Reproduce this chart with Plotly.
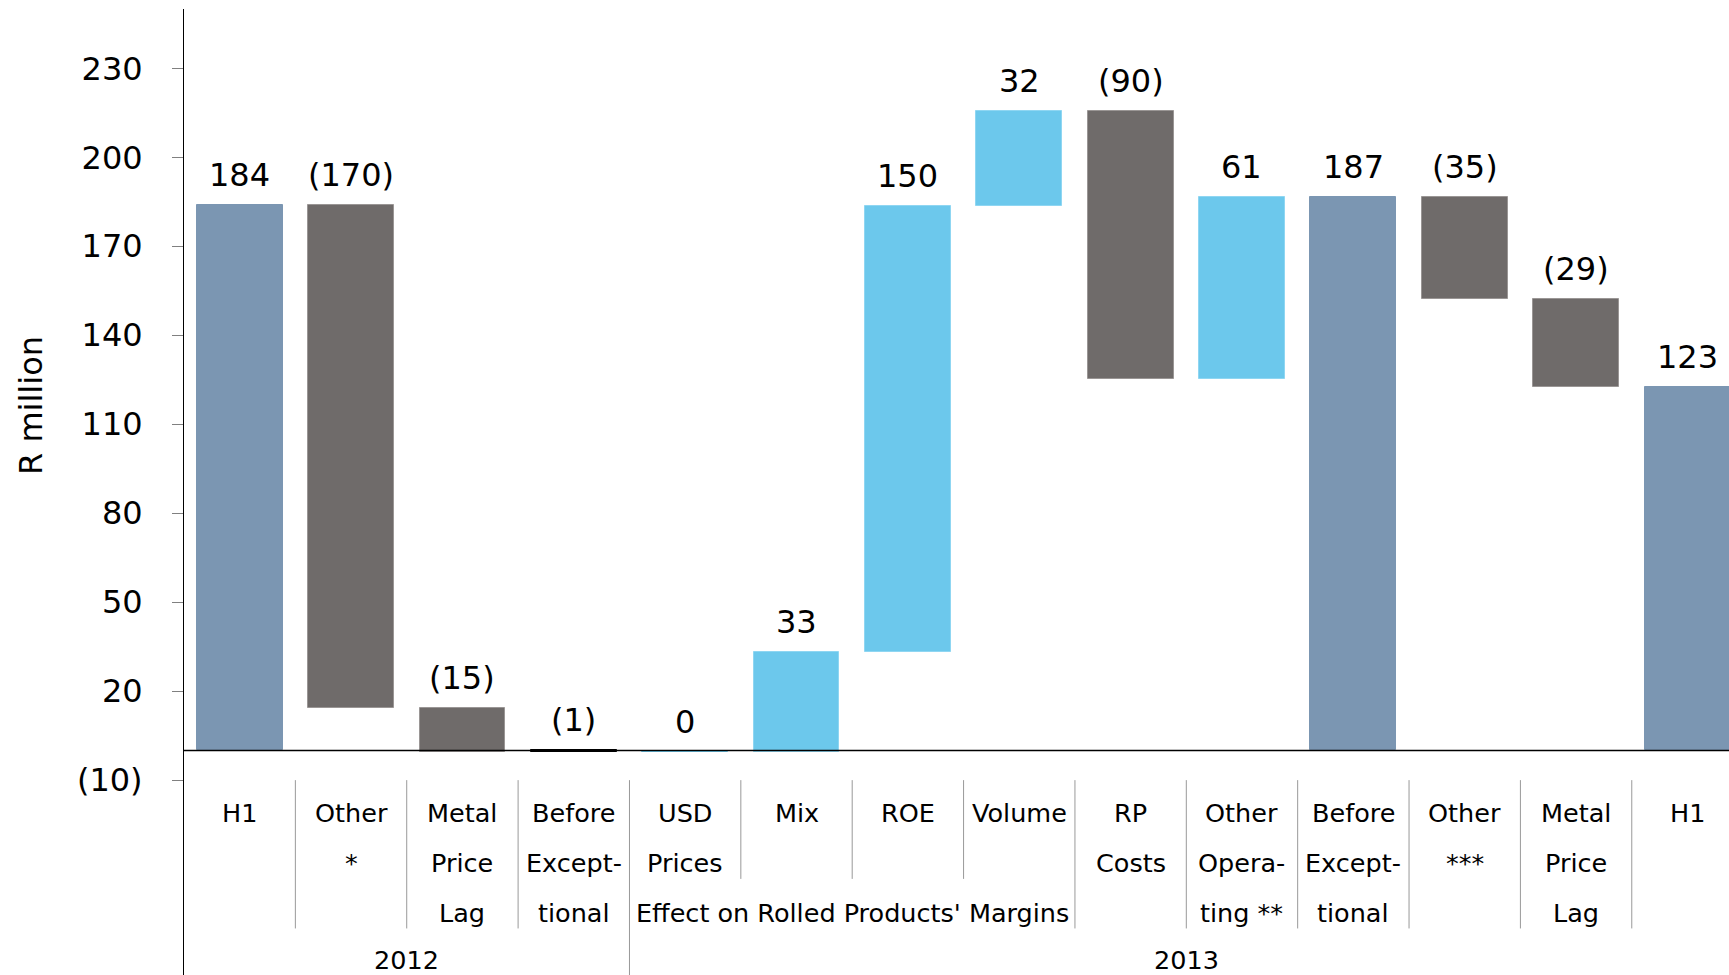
import plotly.graph_objects as go

# ---------------- data ----------------
label_lines = [["H1"], ["Other", "*"], ["Metal", "Price", "Lag"], ["Before", "Except-", "tional"],
               ["USD", "Prices"], ["Mix"], ["ROE"], ["Volume"], ["RP", "Costs"],
               ["Other", "Opera-", "ting **"], ["Before", "Except-", "tional"], ["Other", "***"],
               ["Metal", "Price", "Lag"], ["H1"]]
measures = ["total", "relative", "relative", "total", "relative", "relative", "relative",
            "relative", "relative", "relative", "total", "relative", "relative", "total"]
values = [183.8, -169.6, -14.8, -0.6, 0.0, 33.9, 150.2, 32.0, -90.1, 61.1, 186.5, -34.4, -29.4, 122.7]
value_labels = ["184", "(170)", "(15)", "(1)", "0", "33", "150", "32", "(90)", "61", "187",
                "(35)", "(29)", "123"]
years = ["2012", "2013"]
year_first = [0, 4]
year_last = [3, 13]
span_label = "Effect on Rolled Products' Margins"
span_first, span_last = 4, 7
tick_vals = [-10, 20, 50, 80, 110, 140, 170, 200, 230]
tick_text = ["(10)", "20", "50", "80", "110", "140", "170", "200", "230"]

# ---------------- styles ----------------
C_TOTAL = "#7B96B2"
C_DOWN = "#6F6B6A"
C_UP = "#6CC8EC"
bar_colors = [C_TOTAL, C_DOWN, C_DOWN, "#000000", C_UP, C_UP, C_UP, C_UP, C_DOWN, C_UP,
              C_TOTAL, C_DOWN, C_DOWN, C_TOTAL]
line_colors = [C_TOTAL, "#9a9695", "#9a9695", "#000000", C_UP, "#8fd6f2", "#8fd6f2", "#8fd6f2",
               "#9a9695", "#8fd6f2", C_TOTAL, "#9a9695", "#9a9695", C_TOTAL]
FONT = "DejaVu Sans"
W, H = 1729, 975
ML, MT = 184, 9

# ---------------- geometry from data ----------------
bases, heights = [], []
running = 0.0
for m, v in zip(measures, values):
    if m == "total":
        bases.append(0.0)
        heights.append(v)
        running = v
    else:
        bases.append(running)
        heights.append(v)
        running += v

x = list(range(len(values)))

fig = go.Figure()
fig.add_trace(go.Bar(
    x=x, y=heights, base=bases, width=0.77,
    marker=dict(color=bar_colors, line=dict(color=line_colors, width=1)),
    hoverinfo="skip", showlegend=False,
))

annotations = []
# value labels above bars
for i in x:
    top = max(bases[i], bases[i] + heights[i])
    annotations.append(dict(x=i, y=top, xref="x", yref="y", text=value_labels[i],
                            showarrow=False, yanchor="middle", yshift=30,
                            font=dict(family=FONT, size=32, color="#000000")))

# category labels
CAT = 25.5
row_y = [-21.0, -37.8, -54.7]
for i, lines in enumerate(label_lines):
    for r, t in enumerate(lines):
        annotations.append(dict(x=i, y=row_y[r], xref="x", yref="y", text=t, showarrow=False,
                                yanchor="middle", font=dict(family=FONT, size=CAT, color="#000000")))
annotations.append(dict(x=(span_first + span_last) / 2, y=row_y[2], xref="x", yref="y",
                        text=span_label, showarrow=False, yanchor="middle",
                        font=dict(family=FONT, size=CAT, color="#000000")))
for yr, a, b in zip(years, year_first, year_last):
    annotations.append(dict(x=(a + b) / 2, y=-70.5, xref="x", yref="y", text=yr, showarrow=False,
                            yanchor="middle", font=dict(family=FONT, size=CAT, color="#000000")))

# y title
plot_w = W - ML
plot_h = H - MT
annotations.append(dict(x=(31 - ML) / plot_w, y=(H - 406) / plot_h, xref="paper", yref="paper",
                        text="R million", showarrow=False, textangle=-90,
                        xanchor="center", yanchor="middle",
                        font=dict(family=FONT, size=32, color="#000000")))

shapes = []
# zero line
shapes.append(dict(type="line", xref="paper", yref="y", x0=0, x1=1, y0=0, y1=0,
                   line=dict(color="#000000", width=1.5), layer="above"))
# dividers
group_bounds = [b for b in year_last[:-1]]
span_inner = list(range(span_first, span_last))
for i in range(len(values) - 1):
    if i in group_bounds:
        y1 = -80
    elif i in span_inner:
        y1 = -43.3
    else:
        y1 = -60
    shapes.append(dict(type="line", xref="x", yref="y", x0=i + 0.5, x1=i + 0.5, y0=-10, y1=y1,
                       line=dict(color="#999999", width=1)))

fig.update_layout(
    width=W, height=H,
    margin=dict(l=ML, r=0, t=MT, b=0, pad=0),
    paper_bgcolor="white", plot_bgcolor="white",
    bargap=0,
    annotations=annotations,
    shapes=shapes,
    xaxis=dict(range=[-0.5, 13.373], showline=False, showticklabels=False, showgrid=False,
               zeroline=False, ticks=""),
    yaxis=dict(range=[-75.7, 250], tickvals=tick_vals, ticktext=tick_text, showgrid=False,
               zeroline=False, showline=True, linecolor="#000000", linewidth=1,
               ticks="outside", ticklen=11, tickcolor="#808080", tickwidth=1,
               ticklabelstandoff=23,
               tickfont=dict(family=FONT, size=32, color="#000000")),
)

fig.write_html(
    "out.html",
    config={"displayModeBar": False},
    post_script="document.body.style.margin='0px';document.body.style.overflow='hidden';",
)
